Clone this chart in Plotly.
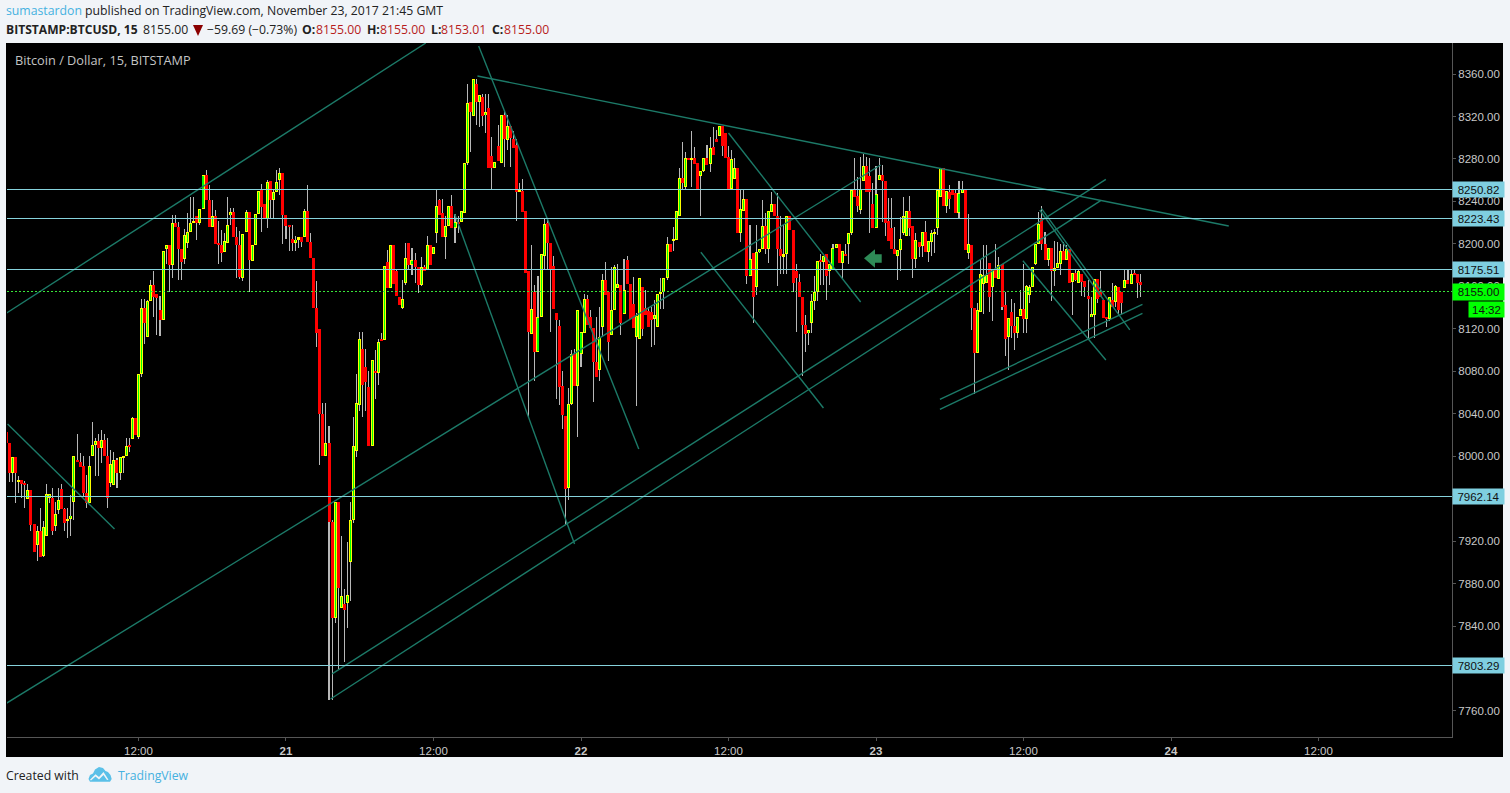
import numpy as np
import pandas as pd
import plotly.graph_objects as go

W, H = 1510, 793

opens = [
8023,8012,7984,7999,7976,7978,7974,7960,7968,7936,
7916,7930,7906,7925,7961,7961,7934,7949,7969,7950,
7939,7941,7957,7996,7995,7991,7965,7956,8000,8011,
8014,8008,8015,8000,7975,7973,7996,7984,7998,8000,
8010,8016,8036,8018,8077,8140,8112,8146,8161,8153,
8138,8128,8195,8199,8180,8220,8216,8195,8186,8201,
8211,8220,8226,8220,8233,8265,8241,8216,8226,8200,
8199,8192,8201,8227,8230,8206,8199,8168,8211,8230,
8184,8199,8228,8251,8238,8223,8259,8241,8249,8260,
8267,8227,8218,8205,8201,8204,8206,8206,8231,8202,
8187,8140,8120,8040,8000,8012,7938,7848,7957,7857,
7861,7862,7900,7940,8005,8048,8101,8084,8065,8010,
8080,8078,8110,8109,8183,8158,8199,8174,8150,8140,
8163,8201,8180,8185,8178,8161,8178,8175,8199,8190,
8210,8241,8229,8206,8217,8236,8215,8221,8221,8229,
8276,8334,8320,8351,8334,8338,8321,8328,8283,8271,
8292,8276,8321,8298,8311,8299,8293,8249,8250,8231,
8174,8115,8155,8098,8131,8189,8220,8201,8179,8135,
8123,8066,8038,7970,8049,8096,8066,8096,8116,8148,
8131,8121,8089,8081,8122,8166,8155,8114,8138,8158,
8161,8134,8185,8162,8143,8112,8110,8159,8140,8137,
8136,8129,8122,8153,8155,8168,8200,8203,8204,8226,
8262,8254,8281,8279,8281,8276,8264,8269,8281,8275,
8291,8299,8302,8311,8304,8282,8252,8261,8271,8210,
8231,8242,8170,8191,8159,8192,8195,8217,8195,8230,
8238,8226,8195,8188,8190,8226,8213,8174,8164,8150,
8124,8116,8125,8146,8155,8185,8183,8190,8174,8175,
8196,8200,8182,8190,8200,8210,8251,8245,8232,8259,
8273,8264,8238,8215,8260,8265,8259,8222,8215,8195,
8189,8194,8210,8207,8231,8217,8186,8202,8198,8211,
8192,8202,8209,8215,8244,8271,8236,8249,8251,8248,
8229,8248,8251,8191,8199,8140,8097,8136,8162,8163,
8182,8159,8176,8167,8181,8142,8112,8136,8123,8116,
8132,8139,8129,8152,8159,8181,8200,8223,8200,8185,
8196,8174,8177,8181,8193,8185,8195,8164,8173,8163,
8172,8165,8151,8131,8133,8167,8155,8147,8131,8129,
8147,8145,8159,8155,8158,8166,8162,8172,8172,8164,
]
closes = [
8012,7984,7999,7984,7978,7974,7973,7968,7935,7910,
7930,7905,7933,7964,7964,7930,7946,7959,7950,7937,
7941,7944,8000,7995,7990,7965,7956,7991,8011,8014,
8008,8015,8000,7961,7993,7996,7984,7999,8000,8010,
8009,8036,8020,8077,8140,8125,8146,8161,8150,8149,
8128,8193,8199,8180,8220,8216,8195,8183,8208,8211,
8220,8222,8220,8233,8265,8241,8216,8226,8200,8199,
8191,8203,8218,8230,8206,8199,8169,8209,8230,8185,
8199,8228,8250,8235,8223,8258,8241,8249,8258,8267,
8227,8217,8216,8201,8204,8206,8202,8231,8202,8187,
8140,8116,8040,8000,8012,7938,7848,7957,7876,7868,
7855,7869,7940,8010,8050,8110,8067,8070,8010,8091,
8078,8108,8109,8179,8158,8199,8162,8151,8142,8148,
8187,8180,8185,8178,8161,8178,8174,8199,8180,8197,
8236,8227,8206,8217,8236,8215,8221,8219,8231,8276,
8333,8324,8355,8334,8340,8320,8324,8271,8271,8277,
8278,8321,8299,8311,8300,8290,8249,8251,8230,8173,
8117,8139,8098,8131,8190,8219,8201,8176,8139,8128,
8065,8039,7969,8049,8096,8066,8138,8117,8148,8124,
8121,8089,8075,8112,8166,8152,8108,8138,8178,8162,
8125,8157,8162,8129,8121,8132,8168,8120,8133,8122,
8128,8133,8153,8154,8168,8200,8192,8204,8231,8262,
8257,8281,8279,8281,8275,8251,8269,8281,8274,8290,
8284,8296,8311,8292,8281,8252,8280,8271,8210,8233,
8242,8170,8186,8150,8192,8195,8217,8195,8231,8238,
8226,8195,8189,8190,8226,8213,8163,8168,8150,8124,
8115,8119,8146,8155,8184,8183,8189,8170,8181,8196,
8200,8182,8193,8189,8210,8251,8244,8236,8252,8273,
8249,8249,8215,8247,8265,8259,8220,8203,8195,8190,
8194,8205,8226,8231,8215,8186,8204,8197,8211,8192,
8203,8210,8211,8251,8271,8236,8250,8242,8246,8229,
8248,8251,8194,8200,8140,8097,8138,8172,8171,8171,
8150,8176,8168,8180,8141,8110,8130,8123,8116,8131,
8139,8129,8160,8159,8178,8200,8219,8200,8185,8196,
8174,8177,8182,8193,8185,8195,8163,8173,8166,8174,
8164,8159,8148,8134,8167,8148,8150,8130,8129,8150,
8141,8160,8138,8144,8166,8162,8172,8171,8163,8161,
]
highs = [
8023,8012,7999,7999,7981,7978,7977,7974,7968,7936,
7934,7951,7939,7974,7964,7970,7957,7970,7974,7951,
7951,7963,8000,8021,8003,8000,7982,8000,8032,8017,
8021,8025,8021,8017,8006,8004,7998,7999,8000,8017,
8017,8037,8036,8077,8148,8148,8147,8166,8174,8153,
8151,8193,8199,8199,8227,8227,8221,8195,8214,8229,
8244,8244,8226,8233,8265,8270,8255,8241,8232,8222,
8213,8210,8244,8234,8234,8216,8212,8209,8232,8230,
8199,8228,8250,8256,8238,8260,8259,8252,8270,8271,
8267,8227,8218,8218,8207,8206,8206,8233,8255,8210,
8187,8165,8120,8050,8050,8028,7940,7957,7957,7925,
7875,7919,7957,8037,8077,8117,8117,8101,8080,8091,
8100,8110,8116,8179,8194,8199,8199,8175,8150,8166,
8201,8201,8196,8191,8178,8188,8180,8207,8199,8197,
8251,8242,8242,8226,8236,8246,8228,8226,8231,8276,
8351,8334,8355,8355,8340,8341,8341,8341,8301,8277,
8312,8321,8325,8321,8311,8306,8299,8257,8261,8231,
8174,8199,8161,8170,8190,8224,8224,8201,8189,8135,
8128,8080,8038,8064,8100,8101,8138,8117,8153,8152,
8138,8121,8131,8141,8172,8183,8155,8178,8180,8181,
8161,8186,8189,8162,8169,8135,8168,8159,8157,8141,
8141,8147,8153,8168,8168,8206,8200,8216,8231,8271,
8296,8287,8281,8306,8291,8276,8269,8281,8293,8301,
8310,8307,8311,8311,8304,8292,8288,8281,8271,8252,
8251,8242,8218,8191,8218,8195,8241,8229,8231,8249,
8238,8248,8226,8218,8226,8226,8213,8181,8172,8150,
8133,8119,8153,8170,8184,8190,8189,8190,8181,8200,
8200,8200,8193,8200,8210,8251,8281,8263,8282,8285,
8282,8281,8257,8273,8281,8274,8259,8243,8243,8216,
8194,8225,8244,8231,8245,8217,8210,8202,8211,8222,
8203,8213,8214,8251,8271,8271,8250,8255,8251,8251,
8259,8259,8251,8228,8199,8140,8144,8185,8199,8199,
8182,8176,8200,8188,8181,8155,8130,8148,8144,8131,
8157,8181,8161,8161,8178,8200,8230,8236,8211,8196,
8196,8203,8202,8200,8202,8199,8195,8173,8175,8175,
8172,8165,8166,8150,8167,8167,8174,8147,8131,8150,
8163,8161,8159,8155,8175,8175,8175,8175,8172,8172,
]
lows = [
8012,7976,7976,7956,7965,7961,7951,7960,7930,7910,
7901,7905,7905,7925,7956,7926,7930,7946,7950,7930,
7923,7925,7940,7995,7990,7962,7951,7956,8000,7981,
7981,7994,8000,7951,7971,7973,7970,7978,7984,8000,
8004,8016,8020,8016,8075,8106,8112,8146,8131,8114,
8113,8128,8181,8155,8168,8216,8166,8166,8181,8196,
8211,8220,8204,8218,8233,8241,8216,8216,8200,8181,
8183,8192,8201,8218,8206,8168,8167,8165,8211,8155,
8184,8199,8228,8211,8223,8215,8224,8224,8249,8246,
8200,8205,8193,8193,8193,8196,8197,8206,8202,8187,
8140,8103,7992,8000,8000,7770,7770,7843,7800,7857,
7806,7838,7864,7937,7999,8043,8037,8043,8010,8010,
8054,8067,8109,8109,8158,8158,8162,8151,8142,8139,
8161,8175,8171,8163,8154,8160,8174,8175,8180,8190,
8201,8227,8206,8186,8217,8215,8201,8210,8221,8229,
8274,8287,8320,8312,8310,8311,8304,8271,8252,8271,
8278,8276,8272,8288,8272,8290,8222,8249,8230,8173,
8037,8115,8071,8098,8131,8175,8175,8117,8139,8054,
8048,8026,7935,7959,8048,8066,8018,8084,8116,8124,
8121,8051,8075,8071,8113,8152,8090,8114,8138,8158,
8114,8134,8162,8129,8121,8047,8110,8113,8133,8122,
8103,8105,8122,8139,8139,8166,8192,8193,8204,8226,
8252,8251,8279,8254,8275,8251,8226,8268,8274,8268,
8284,8296,8302,8283,8281,8252,8251,8261,8210,8202,
8231,8162,8170,8125,8152,8191,8195,8190,8182,8230,
8226,8160,8172,8172,8172,8213,8155,8117,8150,8076,
8098,8105,8116,8138,8146,8161,8161,8147,8161,8175,
8196,8182,8167,8189,8181,8208,8244,8230,8228,8259,
8249,8210,8215,8215,8260,8221,8207,8203,8195,8190,
8166,8174,8208,8207,8207,8168,8177,8188,8188,8192,
8183,8189,8191,8208,8244,8236,8229,8233,8246,8229,
8224,8248,8194,8186,8119,8059,8097,8136,8134,8163,
8136,8127,8168,8167,8138,8094,8081,8111,8100,8111,
8132,8116,8116,8144,8159,8180,8200,8194,8185,8179,
8146,8160,8177,8171,8185,8185,8163,8133,8165,8163,
8151,8150,8110,8131,8111,8144,8150,8130,8122,8127,
8141,8141,8133,8134,8158,8162,8162,8171,8149,8150,
]

first_bar_time = "2017-11-20 01:15"
level_prices = [8250.82, 8223.43, 8175.51, 7962.14, 7803.29]
last_price = 8155.00
countdown = "14:32"

# trend lines drawn on the chart: bar number and price at each end
trend_start_bar = [0.1, 0.1, 106.0, 105.5, 153.3, 153.7, 145.9, 0.4, 235.0, 226.0, 303.8, 303.8, 336.8, 330.8, 336.3]
trend_start_price = [8134.9, 7767.5, 7794.9, 7771.3, 8358.1, 8386.4, 8228.1, 8030.3, 8304.4, 8192.1, 8053.6, 8044.2, 8233.5, 8184.1, 8231.9]
trend_end_bar = [136.5, 284.5, 357.8, 356.1, 397.8, 205.8, 184.9, 35.2, 278.0, 265.9, 369.7, 369.7, 365.6, 357.8, 357.1]
trend_end_price = [8389.2, 8274.3, 8260.8, 8240.7, 8216.8, 8006.8, 7917.3, 7931.4, 8145.2, 8045.4, 8143.1, 8134.6, 8118.9, 8090.6, 8147.1]

price_ticks = list(range(7760, 8361, 40))
time_ticks = ["2017-11-20 12:00", "2017-11-21 00:00", "2017-11-21 12:00", "2017-11-22 00:00", "2017-11-22 12:00",
              "2017-11-23 00:00", "2017-11-23 12:00", "2017-11-24 00:00", "2017-11-24 12:00"]
time_labels = ["12:00", "<b>21</b>", "12:00", "<b>22</b>", "12:00", "<b>23</b>", "12:00", "<b>24</b>", "12:00"]

BG = "#f1f4f8"
BLACK = "#000000"
UP_FILL = "#00ff00"
UP_EDGE = "#ffff00"
DOWN = "#ff0000"
WICK = "#b8b8b8"
TREND = "#1c7a68"
LEVEL = "#86d2dc"
AXIS = "#565656"
TICKTXT = "#c8c8c8"
FONT = "Open Sans"
TEXT = "#222222"
RED_TXT = "#b71c1c"
BLUE_TXT = "#45b1e0"

assert len(opens) == len(closes) == len(highs) == len(lows)

o, c, h, l = map(np.array, (opens, closes, highs, lows))
t0 = pd.Timestamp(first_bar_time)
BAR_MS = 15 * 60 * 1000
times = [(t0 + pd.Timedelta(minutes=15 * i)).strftime("%Y-%m-%d %H:%M:%S") for i in range(len(o))]
PX_PER_BAR = 3.073
PRICE_PER_PX = 0.9419


def bar_time(b):
    return (t0 + pd.Timedelta(minutes=15 * float(b))).strftime("%Y-%m-%d %H:%M:%S")


def px(x):
    return x / W


def py(y):
    return 1 - y / H


up = c >= o
body_low = np.minimum(o, c)
body_h = np.abs(c - o)
fig = go.Figure()
fig.add_trace(go.Bar(x=times, base=l.tolist(), y=(h - l).tolist(), width=BAR_MS * 0.02,
                     marker=dict(color=WICK, line=dict(width=0)), hoverinfo="skip"))
fig.add_trace(go.Bar(x=times, base=body_low.tolist(), y=body_h.tolist(),
                     width=BAR_MS * 3 / PX_PER_BAR,
                     marker=dict(color=[UP_EDGE if u else DOWN for u in up], line=dict(width=0)),
                     hoverinfo="skip"))
inner = np.where(up & (body_h > 3 * PRICE_PER_PX))[0]
fig.add_trace(go.Bar(x=[times[i] for i in inner],
                     base=(body_low[inner] + PRICE_PER_PX).tolist(),
                     y=(body_h[inner] - 2 * PRICE_PER_PX).tolist(),
                     width=BAR_MS * 0.02,
                     marker=dict(color=UP_FILL, line=dict(width=0)), hoverinfo="skip"))
for sb, sp, eb, ep in zip(trend_start_bar, trend_start_price, trend_end_bar, trend_end_price):
    fig.add_trace(go.Scatter(x=[bar_time(sb), bar_time(eb)], y=[sp, ep], mode="lines",
                             line=dict(color=TREND, width=1.4), hoverinfo="skip"))

shapes = [
    dict(type="rect", xref="paper", yref="paper", x0=px(6), x1=px(1503), y0=py(757), y1=py(43),
         fillcolor=BLACK, line=dict(width=0), layer="below"),
]
for p in level_prices:
    shapes.append(dict(type="line", xref="paper", yref="y", x0=px(7), x1=px(1452), y0=p, y1=p,
                       line=dict(color=LEVEL, width=1)))
shapes.append(dict(type="line", xref="paper", yref="y", x0=px(7), x1=px(1452), y0=last_price, y1=last_price,
                   line=dict(color="#39e639", width=1, dash="2px,2px")))


def poly(points, color):
    d = "M" + " L".join(f"{px(a):.5f},{py(b):.5f}" for a, b in points) + " Z"
    return dict(type="path", xref="paper", yref="paper", path=d, fillcolor=color, line=dict(width=0))


# left arrow drawn on the chart
shapes.append(poly([(864, 258.3), (875, 249.3), (875, 254.3), (881.7, 254.3), (881.7, 262.7),
                    (875, 262.7), (875, 267.7)], "#2e8b57"))
# down triangle in the header
shapes.append(poly([(193, 25), (203, 25), (198, 36)], "#8b0000"))
# TradingView logo in the footer
shapes.append(poly([(88.5, 779), (90, 775), (93, 773.5), (95, 769.5), (99, 767), (103, 768), (105.5, 771),
                    (108, 772), (110.5, 775), (111.7, 779), (110, 781.7), (90, 781.7)], "#5bc0e8"))
shapes.append(poly([(90, 779.8), (95.5, 774.2), (99, 777), (103.5, 772), (108.5, 779.8), (107, 780),
                    (103.5, 775), (99, 779.5), (95.5, 776.5), (91, 780.5)], BG))


def label(x, y, text, size=12.25, color=TEXT):
    return dict(xref="paper", yref="paper", x=px(x), y=py(y), xanchor="left", yanchor="middle",
                showarrow=False, align="left", text=text, borderpad=0, borderwidth=0,
                font=dict(family=FONT, size=size, color=color))


annotations = [
    label(6, 11, f"<span style='color:{BLUE_TXT}'>sumastardon</span> published on TradingView.com, November 23, 2017 21:45 GMT"),
    label(6, 29, "<b>BITSTAMP:BTCUSD, 15</b>", size=12.1),
    label(143, 29, "8155.00"),
    label(207, 29, "\u221259.69 (\u22120.73%)"),
    label(302, 29, "<b>O:</b>"),
    label(316, 29, "8155.00", color=RED_TXT),
    label(367, 29, "<b>H:</b>"),
    label(380, 29, "8155.00", color=RED_TXT),
    label(431, 29, "<b>L:</b>"),
    label(441, 29, "8153.01", color=RED_TXT),
    label(492, 29, "<b>C:</b>"),
    label(504, 29, "8155.00", color=RED_TXT),
    label(15, 60, "Bitcoin / Dollar, 15, BITSTAMP", size=12.75, color="#c4c4c4"),
    label(6, 775, "Created with"),
    label(118, 775, "TradingView", color=BLUE_TXT),
]
for p in level_prices:
    annotations.append(dict(xref="paper", yref="y", x=px(1452), y=p, xanchor="left", yanchor="middle",
                            showarrow=False, text=f"{p:.2f}", width=51, height=15, bgcolor="#7fcfe0",
                            borderpad=0, font=dict(family="Liberation Sans", size=11.5, color="#111")))
annotations.append(dict(xref="paper", yref="y", x=px(1452), y=last_price, xanchor="left", yanchor="middle",
                        showarrow=False, text=f"{last_price:.2f}", width=51, height=16, bgcolor="#00ff00",
                        borderpad=0, font=dict(family="Liberation Sans", size=11.5, color="#111")))
annotations.append(dict(xref="paper", yref="paper", x=px(1468), y=py(309.5), xanchor="left", yanchor="middle",
                        showarrow=False, text=countdown, width=35, height=15, bgcolor="#00ff00",
                        borderpad=0, font=dict(family="Liberation Sans", size=11.5, color="#111")))

fig.update_layout(
    width=W, height=H, autosize=False, margin=dict(l=0, r=0, t=0, b=0, pad=0),
    paper_bgcolor=BG, plot_bgcolor=BLACK, showlegend=False, barmode="overlay", bargap=0,
    shapes=shapes, annotations=annotations,
    xaxis=dict(domain=[px(7), px(1452)], type="date",
               range=["2017-11-20 01:18:10", "2017-11-24 22:51:35"],
               tickmode="array", tickvals=time_ticks, ticktext=time_labels, ticks="outside", ticklen=3,
               tickcolor=AXIS, showgrid=False, zeroline=False, showline=True, linecolor=AXIS, linewidth=1,
               tickfont=dict(family="Liberation Sans", size=11.5, color=TICKTXT), fixedrange=True),
    yaxis=dict(domain=[py(737), py(43)], range=[7735.5, 8389.2], side="right", anchor="x",
               tickmode="array", tickvals=price_ticks, ticktext=[f"{v:.2f}" for v in price_ticks],
               ticks="outside", ticklen=3, tickcolor=AXIS, showgrid=False, zeroline=False,
               showline=True, linecolor=AXIS, linewidth=1,
               tickfont=dict(family="Liberation Sans", size=11.5, color=TICKTXT), fixedrange=True),
)

post = """
document.body.style.margin='0';document.body.style.overflow='hidden';
document.querySelectorAll('.shapelayer path').forEach(function(p){
  if(parseFloat(p.style.strokeWidth)>0){p.style.shapeRendering='crispEdges';}
});
"""
fig.write_html("out.html", config=dict(displayModeBar=False), post_script=post)
